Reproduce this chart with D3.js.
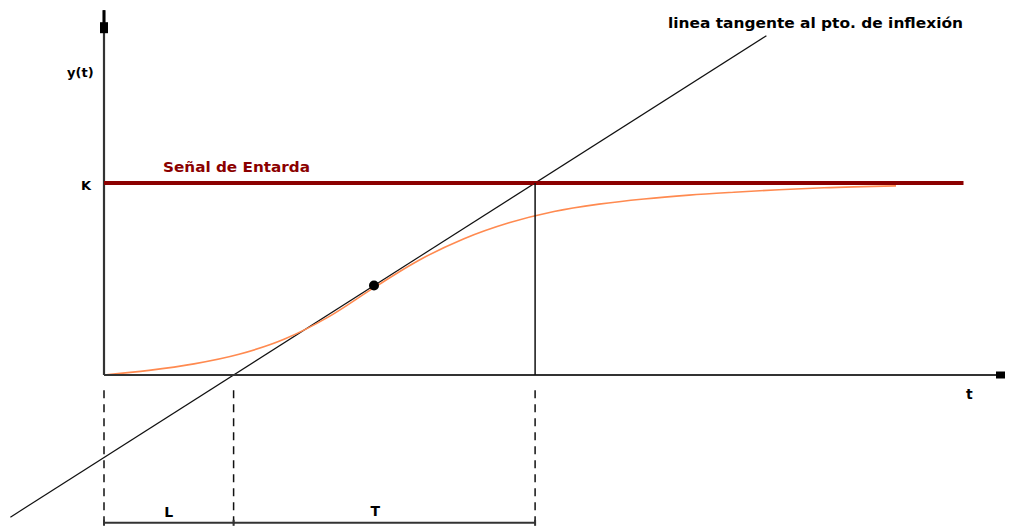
<!DOCTYPE html>
<html>
<head>
<meta charset="utf-8">
<script src="https://cdn.jsdelivr.net/npm/d3@7"></script>
<style>
  body { margin: 0; background: #fff; }
  text { font-family: "DejaVu Sans", Verdana, sans-serif; font-weight: bold; }
</style>
</head>
<body>
<script>
// step response (t in arbitrary units, y relative to K)
var respT = [0, 5, 10, 15, 20, 25, 30, 35, 40, 45, 50, 55, 60, 65, 70, 75, 80, 88];
var respY = [0, 0.024, 0.058, 0.108, 0.186, 0.304, 0.455, 0.598, 0.71, 0.793, 0.852, 0.89, 0.917, 0.937, 0.952, 0.965, 0.975, 0.985];

// process parameters
var K = 1;          // final value / input step
var L = 14.4;       // dead time
var T = 33.5;       // time constant
var inflex = [30, 0.466];

var tMax = 100, yMax = 1.9, inputEnd = 95.5;

var width = 1011, height = 527;

var svg = d3.select("body").append("svg")
    .attr("width", width)
    .attr("height", height);

//scales
var x = d3.scaleLinear().domain([0, tMax]).range([104, 1004]);
var y = d3.scaleLinear().domain([0, K]).range([375, 183]);

// tangent line  y = K (t - L) / T
var tangent = function(t) { return K * (t - L) / T; };
var tanStart = -10.4, tanEnd = 73.6;

svg.append("line")
    .attr("x1", x(tanStart)).attr("y1", y(tangent(tanStart)))
    .attr("x2", x(tanEnd)).attr("y2", y(tangent(tanEnd)))
    .attr("stroke", "#111").attr("stroke-width", 1.2);

// step response curve
var line = d3.line()
    .x(function(d, i) { return x(respT[i]); })
    .y(function(d) { return y(d); })
    .curve(d3.curveMonotoneX);

svg.append("path")
    .datum(respY)
    .attr("d", line)
    .attr("fill", "none")
    .attr("stroke", "#ff8a50")
    .attr("stroke-width", 1.6);

// axes
var axisColor = "#333";
svg.append("line")
    .attr("x1", x(0)).attr("y1", y(0))
    .attr("x2", x(0)).attr("y2", y(yMax))
    .attr("stroke", axisColor).attr("stroke-width", 2.2);
svg.append("line")
    .attr("x1", x(0)).attr("y1", y(0))
    .attr("x2", x(tMax)).attr("y2", y(0))
    .attr("stroke", axisColor).attr("stroke-width", 2.2);

// arrow heads (little blocks like the original)
svg.append("rect")
    .attr("x", x(0) - 4).attr("y", y(yMax) + 12)
    .attr("width", 8).attr("height", 11)
    .attr("fill", "#000");
svg.append("rect")
    .attr("x", x(0) - 1.5).attr("y", y(yMax))
    .attr("width", 3).attr("height", 13)
    .attr("fill", "#000");
svg.append("rect")
    .attr("x", x(tMax) - 8).attr("y", y(0) - 3.5)
    .attr("width", 9).attr("height", 7)
    .attr("fill", "#000");

// input step
svg.append("line")
    .attr("x1", x(0)).attr("y1", y(K))
    .attr("x2", x(inputEnd)).attr("y2", y(K))
    .attr("stroke", "#8b0000").attr("stroke-width", 4);

// vertical at L+T
svg.append("line")
    .attr("x1", x(L + T)).attr("y1", y(K))
    .attr("x2", x(L + T)).attr("y2", y(0))
    .attr("stroke", "#111").attr("stroke-width", 1.5);

// inflection point
svg.append("circle")
    .attr("cx", x(inflex[0])).attr("cy", y(inflex[1]))
    .attr("r", 5).attr("fill", "#000");

// dashed drop lines
var dimY = -0.77;
var drops = [0, L, L + T];
svg.selectAll(".drop")
    .data(drops)
    .enter()
  .append("line")
    .attr("class", "drop")
    .attr("x1", function(d) { return x(d); })
    .attr("x2", function(d) { return x(d); })
    .attr("y1", y(-0.08))
    .attr("y2", function(d, i) { return i == 1 ? height : y(dimY); })
    .attr("stroke", "#111")
    .attr("stroke-width", 1.5)
    .attr("stroke-dasharray", "8,6");

// dimension line for L and T
svg.append("line")
    .attr("x1", x(0)).attr("y1", y(dimY))
    .attr("x2", x(L + T)).attr("y2", y(dimY))
    .attr("stroke", axisColor).attr("stroke-width", 2);
svg.selectAll(".tick")
    .data(drops)
    .enter()
  .append("line")
    .attr("x1", function(d) { return x(d); })
    .attr("x2", function(d) { return x(d); })
    .attr("y1", y(dimY) - 3)
    .attr("y2", y(dimY) + 3)
    .attr("stroke", axisColor).attr("stroke-width", 2);

// labels
svg.append("text").attr("x", 67).attr("y", 77).attr("font-size", 13).text("y(t)");
svg.append("text").attr("x", 81).attr("y", 190).attr("font-size", 13).text("K");
svg.append("text").attr("x", 966).attr("y", 399).attr("font-size", 14).text("t");
svg.append("text").attr("x", x(L / 2)).attr("y", 517).attr("font-size", 14)
    .attr("text-anchor", "middle").text("L");
svg.append("text").attr("x", x(L + T / 2) - 9).attr("y", 516).attr("font-size", 14)
    .attr("text-anchor", "middle").text("T");
svg.append("text").attr("x", 163).attr("y", 172).attr("font-size", 14.5)
    .attr("textLength", 147).attr("lengthAdjust", "spacingAndGlyphs")
    .attr("fill", "#8b0000").text("Señal de Entarda");
svg.append("text").attr("x", 668).attr("y", 28).attr("font-size", 14.5)
    .attr("textLength", 295).attr("lengthAdjust", "spacingAndGlyphs")
    .text("linea tangente al pto. de inflexión");
</script>
</body>
</html>
